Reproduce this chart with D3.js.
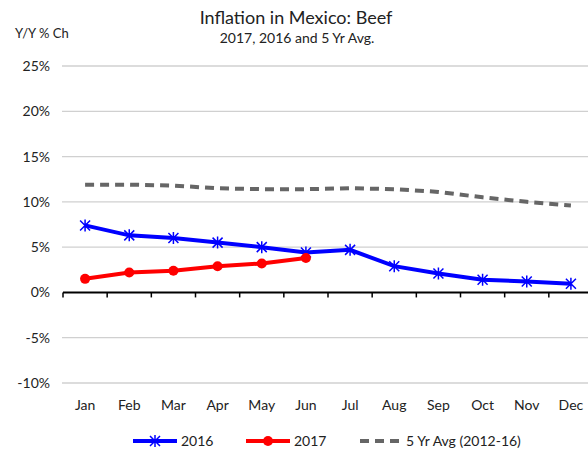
<!DOCTYPE html>
<html>
<head>
<meta charset="utf-8">
<script src="https://cdn.jsdelivr.net/npm/d3@7"></script>
<style>
  body { margin: 0; background: #fff; }
  text { font-family: Lato, "Open Sans", sans-serif; fill: #222; }
</style>
</head>
<body>
<svg id="svg" width="588" height="450"></svg>
<script>
const months = ['Jan', 'Feb', 'Mar', 'Apr', 'May', 'Jun', 'Jul', 'Aug', 'Sep', 'Oct', 'Nov', 'Dec']
const yr2016 = [7.4, 6.3, 6.0, 5.5, 5.0, 4.4, 4.7, 2.9, 2.1, 1.4, 1.2, 0.95]
const yr2017 = [1.5, 2.2, 2.4, 2.9, 3.2, 3.8]
const avg5 = [11.9, 11.9, 11.8, 11.5, 11.4, 11.4, 11.5, 11.4, 11.1, 10.5, 10.0, 9.6]
const yTicks = [-10, -5, 0, 5, 10, 15, 20, 25]

const svg = d3.select('#svg')

const xScale = d3.scaleBand()
  .domain(months)
  .range([63, 593])

const yScale = d3.scaleLinear()
  .domain([-10, 25])
  .range([383, 66])

// title
svg.append('text')
  .attr('x', 296).attr('y', 24)
  .attr('text-anchor', 'middle')
  .style('font-size', '18px')
  .text('Inflation in Mexico: Beef')
svg.append('text')
  .attr('x', 297).attr('y', 43)
  .attr('text-anchor', 'middle')
  .style('font-size', '14px')
  .text('2017, 2016 and 5 Yr Avg.')
svg.append('text')
  .attr('x', 15).attr('y', 38)
  .style('font-size', '13px')
  .text('Y/Y % Ch')

// gridlines
svg.append('g')
  .selectAll('line')
  .data(yTicks.filter(d => d !== 0))
  .enter()
  .append('line')
  .attr('x1', 62).attr('x2', 588)
  .attr('y1', d => yScale(d)).attr('y2', d => yScale(d))
  .attr('stroke', '#d0d0d0')
  .attr('stroke-width', 1.3)

// y labels
svg.append('g')
  .selectAll('text')
  .data(yTicks)
  .enter()
  .append('text')
  .attr('x', 50)
  .attr('y', d => yScale(d) + 5)
  .attr('text-anchor', 'end')
  .style('font-size', '14px')
  .text(d => d + '%')

// zero axis with ticks
const xAxis = svg.append('g')
  .attr('transform', 'translate(0,' + yScale(0) + ')')
xAxis.append('line')
  .attr('x1', 63).attr('x2', 588)
  .attr('stroke', '#000').attr('stroke-width', 2)
xAxis.selectAll('.tk')
  .data(months)
  .enter()
  .append('line')
  .attr('x1', d => xScale(d)).attr('x2', d => xScale(d))
  .attr('y1', 0).attr('y2', 5)
  .attr('stroke', '#000').attr('stroke-width', 1.5)

// month labels
svg.append('g')
  .selectAll('text')
  .data(months)
  .enter()
  .append('text')
  .attr('x', d => xScale(d) + xScale.bandwidth() / 2)
  .attr('y', 410)
  .attr('text-anchor', 'middle')
  .style('font-size', '14px')
  .text(d => d)

const cx = (d, i) => xScale(months[i]) + xScale.bandwidth() / 2
const line = d3.line()
  .x(cx)
  .y(d => yScale(d))

svg.append('path')
  .attr('d', line(avg5))
  .attr('fill', 'none')
  .attr('stroke', '#666')
  .attr('stroke-width', 4)
  .attr('stroke-dasharray', '9,6')

svg.append('path')
  .attr('d', line(yr2016))
  .attr('fill', 'none')
  .attr('stroke', '#0000ff')
  .attr('stroke-width', 4)

function star(g, x, y) {
  const s = 5
  g.append('path')
    .attr('d', `M${x - s},${y - s}L${x + s},${y + s}M${x - s},${y + s}L${x + s},${y - s}M${x},${y - s - 1}L${x},${y + s + 1}`)
    .attr('stroke', '#0000ff')
    .attr('stroke-width', 1.5)
}
const starG = svg.append('g')
yr2016.forEach((d, i) => star(starG, cx(d, i), yScale(d)))

svg.append('path')
  .attr('d', line(yr2017))
  .attr('fill', 'none')
  .attr('stroke', '#ff0000')
  .attr('stroke-width', 4)

svg.append('g')
  .selectAll('circle')
  .data(yr2017)
  .enter()
  .append('circle')
  .attr('cx', cx)
  .attr('cy', d => yScale(d))
  .attr('r', 5)
  .attr('fill', '#ff0000')

// legend
const ly = 441
const leg = svg.append('g')
leg.append('line').attr('x1', 133).attr('x2', 177).attr('y1', ly).attr('y2', ly)
  .attr('stroke', '#0000ff').attr('stroke-width', 4)
star(leg, 155, ly)
leg.append('text').attr('x', 181).attr('y', ly + 5).style('font-size', '14px').text('2016')

leg.append('line').attr('x1', 246).attr('x2', 290).attr('y1', ly).attr('y2', ly)
  .attr('stroke', '#ff0000').attr('stroke-width', 4)
leg.append('circle').attr('cx', 268).attr('cy', ly).attr('r', 5).attr('fill', '#ff0000')
leg.append('text').attr('x', 294).attr('y', ly + 5).style('font-size', '14px').text('2017')

leg.append('line').attr('x1', 360).attr('x2', 400).attr('y1', ly).attr('y2', ly)
  .attr('stroke', '#666').attr('stroke-width', 4).attr('stroke-dasharray', '9,6')
leg.append('text').attr('x', 406).attr('y', ly + 5).style('font-size', '14px').text('5 Yr Avg (2012-16)')
</script>
</body>
</html>
